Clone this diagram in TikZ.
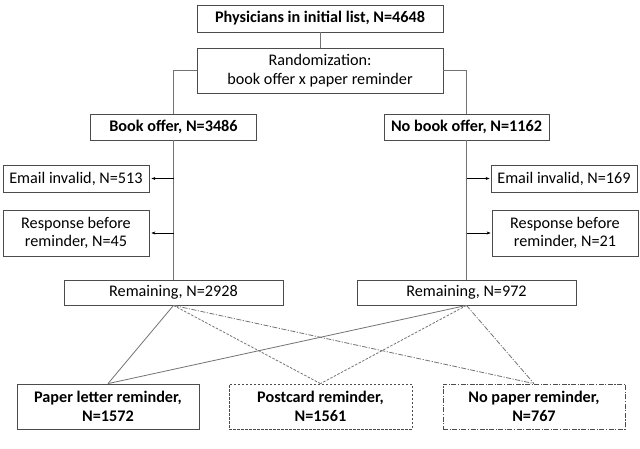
\documentclass[tikz,border=0pt]{standalone}
\usepackage{fontspec}
\setmainfont{Carlito}
\usetikzlibrary{arrows.meta}
\definecolor{boxc}{gray}{0.3}
\definecolor{linec}{gray}{0.45}
\tikzset{
  box/.style={draw=boxc, line width=0.8pt, inner sep=0pt, align=center,
    font=\fontsize{16.2}{18.5}\selectfont, fill=white},
  bbox/.style={box, font=\fontsize{16.2}{18.5}\selectfont\bfseries},
  conn/.style={draw=linec, line width=0.8pt},
  arr/.style={draw=black, line width=0.6pt, -{Stealth[length=4pt,width=3pt]}},
  shortdash/.style={dash pattern=on 2.5pt off 1.5pt},
  dashdot/.style={dash pattern=on 5pt off 1.5pt on 1.2pt off 1.5pt},
}
\begin{document}
\begin{tikzpicture}[x=1pt,y=-1pt]
\useasboundingbox (0,0) rectangle (640,448);
% boxes
\node[bbox, minimum width=246pt, minimum height=27pt] (top) at (320,18.5) {Physicians in initial list, N=4648};
\node[box, minimum width=246pt, minimum height=45pt] (rand) at (320,70.5) {Randomization:\\book offer x paper reminder};
\node[bbox, minimum width=166pt, minimum height=26pt] (book) at (173.5,127) {Book offer, N=3486};
\node[bbox, minimum width=165pt, minimum height=26pt] (nobook) at (466.5,127) {No book offer, N=1162};
\node[box, minimum width=146pt, minimum height=27pt] (emailL) at (76,178.5) {Email invalid, N=513};
\node[box, minimum width=146pt, minimum height=46pt] (respL) at (76,233) {Response before\\reminder, N=45};
\node[box, minimum width=146pt, minimum height=27pt] (emailR) at (564,178.5) {Email invalid, N=169};
\node[box, minimum width=146pt, minimum height=46pt] (respR) at (565,233) {Response before\\reminder, N=21};
\node[box, minimum width=219pt, minimum height=25pt] (remL) at (173.5,292.5) {Remaining, N=2928};
\node[box, minimum width=219pt, minimum height=25pt] (remR) at (466.5,292.5) {Remaining, N=972};
\node[bbox, minimum width=182pt, minimum height=45pt] (paper) at (108,406.5) {Paper letter reminder,\\N=1572};
\node[bbox, minimum width=183pt, minimum height=45pt, shortdash] (post) at (320.5,406.5) {Postcard reminder,\\N=1561};
\node[bbox, minimum width=182pt, minimum height=45pt, dashdot] (nopap) at (534,406.5) {No paper reminder,\\N=767};
% tree connectors
\draw[conn] (top) -- (rand);
\draw[conn] (rand.west) -- (book.north |- rand.west) -- (book.north);
\draw[conn] (rand.east) -- (nobook.north |- rand.east) -- (nobook.north);
\draw[conn] (book.south) -- (book.south |- remL.north);
\draw[conn] (nobook.south) -- (nobook.south |- remR.north);
% side arrows
\coordinate (aL1) at (book.south |- emailL.east);
\coordinate (aL2) at (book.south |- respL.east);
\coordinate (aR1) at (nobook.south |- emailR.west);
\coordinate (aR2) at (nobook.south |- respR.west);
\draw[arr] (aL1) -- ([xshift=2pt]emailL.east);
\draw[arr] (aL2) -- ([xshift=2pt]respL.east);
\draw[arr] (aR1) -- ([xshift=-1pt]emailR.west);
\draw[arr] (aR2) -- ([xshift=-1pt]respR.west);
% lower connectors
\draw[conn] (remL.south) -- (paper.north);
\draw[conn, shortdash] (remL.south) -- (post.north);
\draw[conn, dashdot] (remL.south) -- (nopap.north);
\draw[conn] (remR.south) -- (paper.north);
\draw[conn, shortdash] (remR.south) -- (post.north);
\draw[conn, dashdot] (remR.south) -- (nopap.north);
\end{tikzpicture}
\end{document}
